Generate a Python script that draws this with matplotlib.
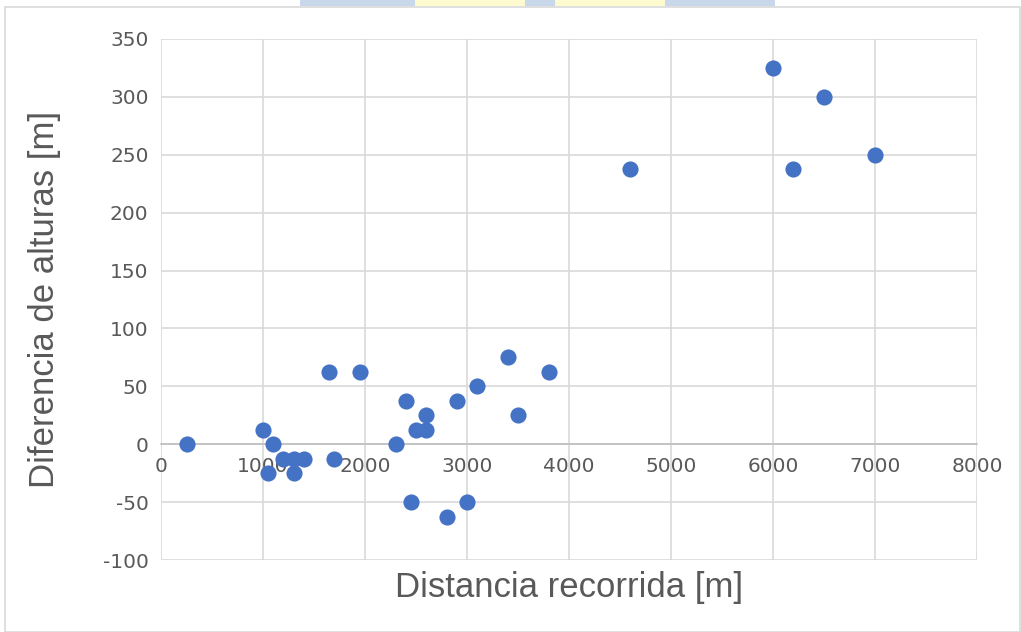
import matplotlib
matplotlib.use("Agg")
import matplotlib.pyplot as plt
from matplotlib.patches import Rectangle

# distancia recorrida [m] vs diferencia de alturas [m]
distancia = [250, 1000, 1050, 1100, 1200, 1300, 1300, 1400, 1650, 1700,
             1950, 2300, 2400, 2450, 2500, 2600, 2600, 2800, 2900, 3000,
             3100, 3400, 3500, 3800, 4600, 6000, 6200, 6500, 7000]
diferencia = [0, 12.5, -25, 0, -12.5, -12.5, -25, -12.5, 62.5, -12.5,
              62.5, 0, 37.5, -50, 12.5, 25, 12.5, -62.5, 37.5, -50,
              50, 75, 25, 62.5, 237.5, 325, 237.5, 300, 250]
xticks = [0, 1000, 2000, 3000, 4000, 5000, 6000, 7000, 8000]
yticks = [-100, -50, 0, 50, 100, 150, 200, 250, 300, 350]

plt.rcParams['font.family'] = ['Liberation Sans Narrow', 'DejaVu Sans']
plt.rcParams['axes.unicode_minus'] = False

fig = plt.figure(figsize=(10.21, 6.32), dpi=100)
ax = fig.add_axes([161/1021, 1 - 560/632, (977-161)/1021, (560-39)/632])

ax.scatter(distancia, diferencia, s=135, color='#4472C4', zorder=3, linewidths=0)

ax.set_xlim(0, 8000)
ax.set_ylim(-100, 350)
ax.set_xticks(xticks)
ax.set_yticks(yticks)
ax.grid(True, color='#d9d9d9', linewidth=1.2)
ax.set_axisbelow(True)

for s in ['top', 'right', 'left']:
    ax.spines[s].set_visible(False)
ax.spines['bottom'].set_position(('data', 0))
ax.spines['bottom'].set_color('#bfbfbf')
ax.spines['bottom'].set_linewidth(1.2)
ax.tick_params(length=0, colors='#595959', labelsize=14.5)
ax.tick_params(axis='x', pad=9)
ax.tick_params(axis='y', pad=9)

ax.set_xlabel('Distancia recorrida [m]', fontsize=25, color='#595959',
              family=['Liberation Sans', 'DejaVu Sans'])
ax.xaxis.set_label_coords(0.5, -0.022)
ax.set_ylabel('Diferencia de alturas [m]', fontsize=25, color='#595959',
              family=['Liberation Sans', 'DejaVu Sans'])
ax.yaxis.set_label_coords(-0.122, 0.5)

# chart frame
fig.patches.append(Rectangle((5/1021, 0), 1015/1021, 1 - 7/632, transform=fig.transFigure,
                             fill=False, edgecolor='#d9d9d9', linewidth=1.2))
# strip of the page above the chart
for x0, w, c in [(300, 115, '#c9d7ea'), (415, 110, '#fefbd0'), (525, 30, '#c9d7ea'),
                 (555, 110, '#fefbd0'), (665, 110, '#c9d7ea')]:
    fig.patches.append(Rectangle((x0/1021, 1 - 6/632), w/1021, 6/632,
                                 transform=fig.transFigure, color=c, linewidth=0))

fig.savefig('out.png', dpi=100)
